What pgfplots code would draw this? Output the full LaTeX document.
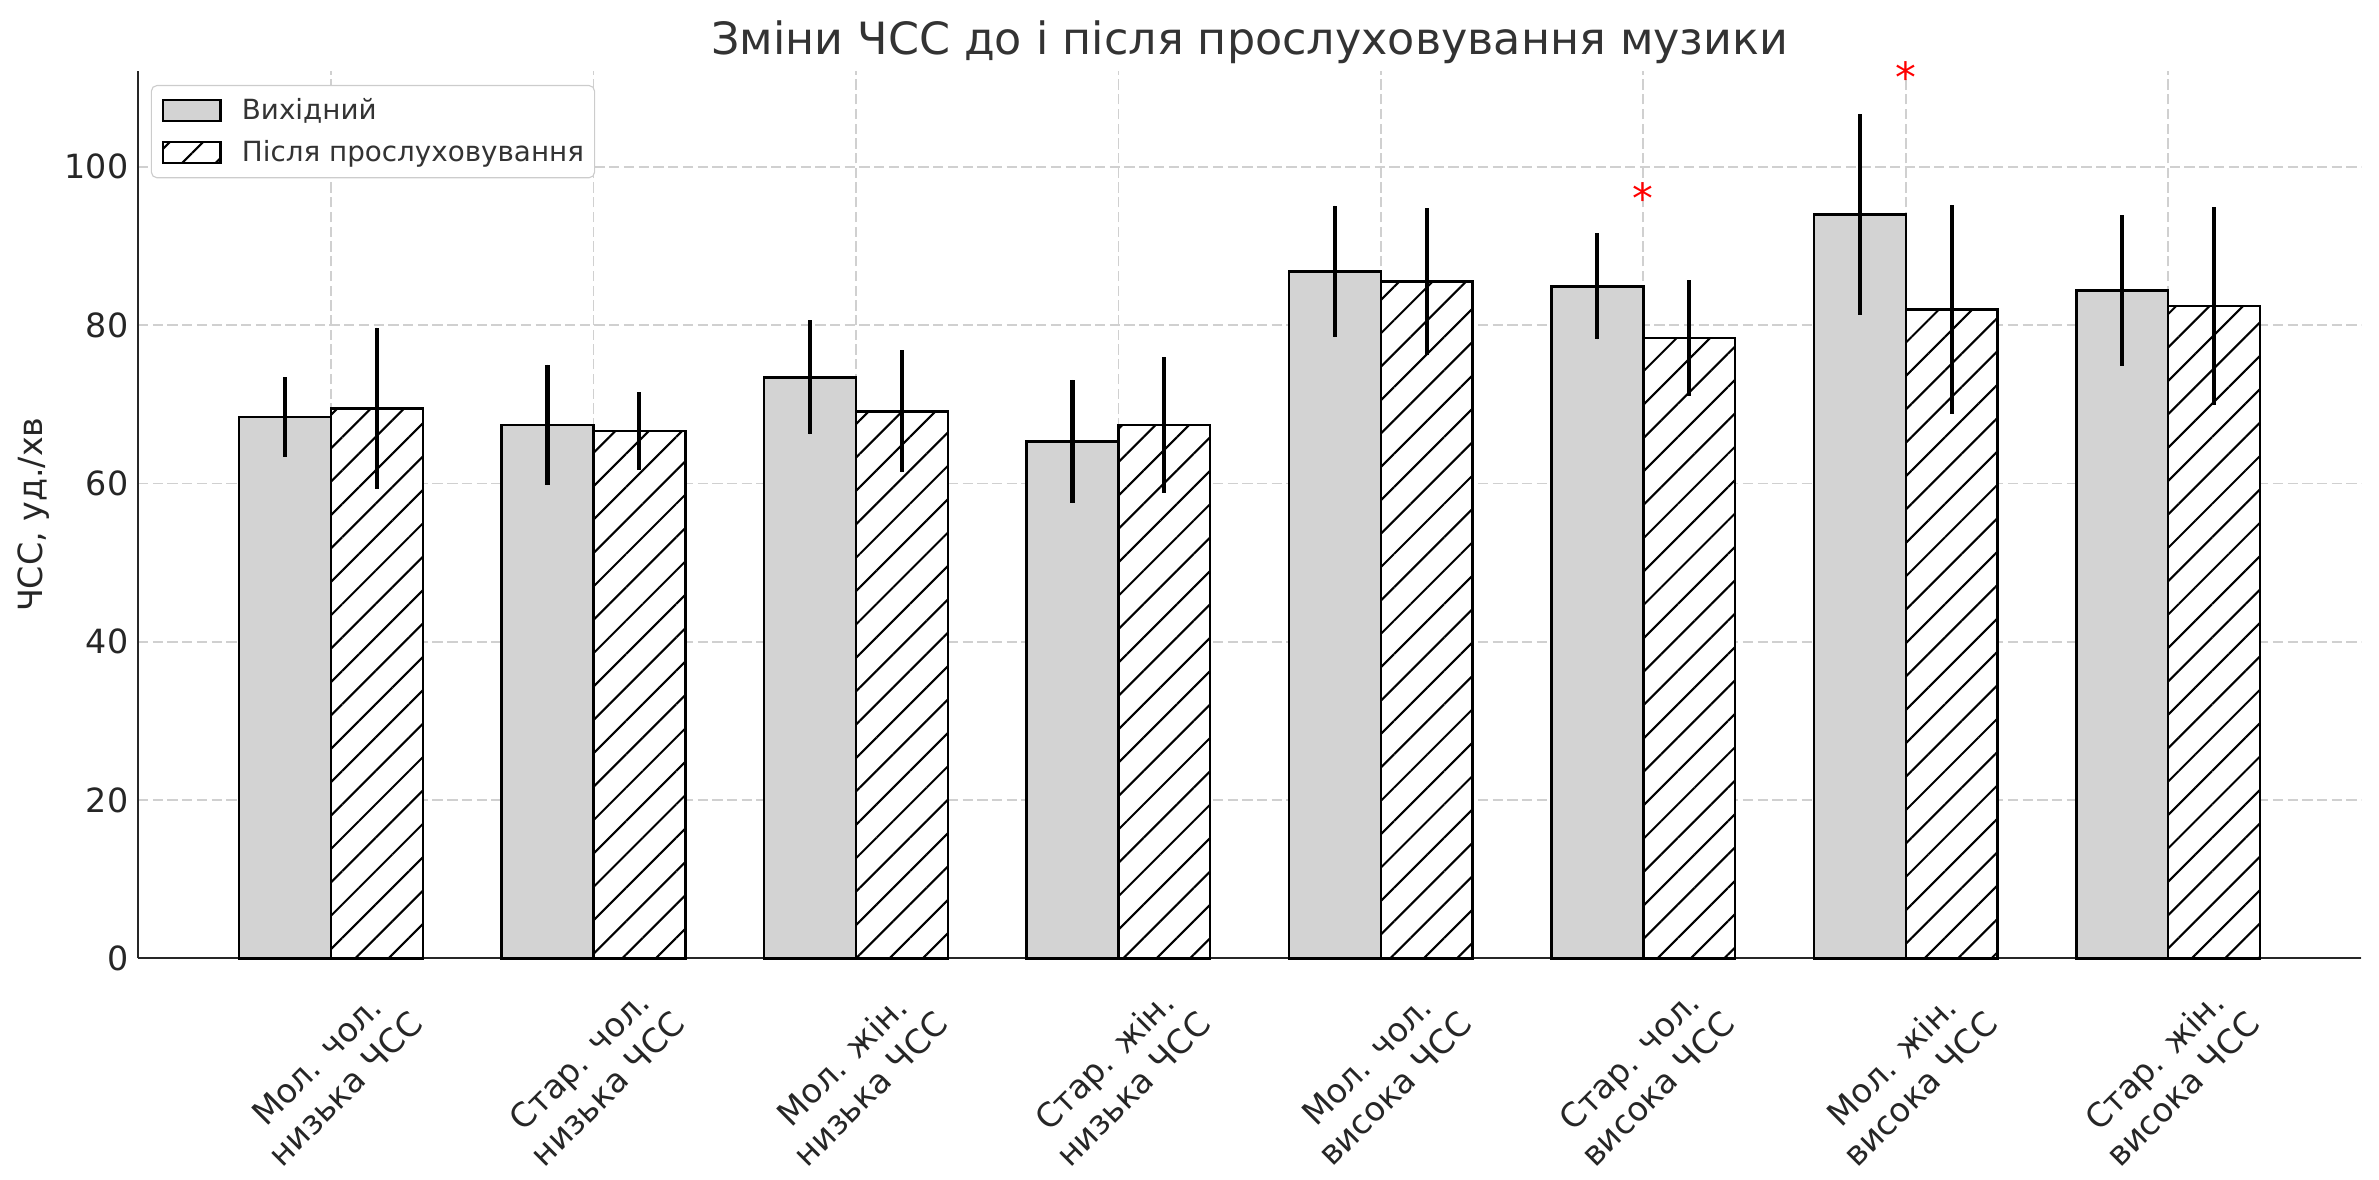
\documentclass[border=0pt]{standalone}
\usepackage{fontspec}
\setmainfont{DejaVu Sans}
\usepackage{pgfplots}
\pgfplotsset{compat=1.18}
\usepackage{pgfplotstable}
\usetikzlibrary{patterns.meta}
\definecolor{barg}{HTML}{D3D3D3}
\definecolor{gridc}{HTML}{D0D0D0}
\definecolor{txt}{HTML}{333333}

\pgfplotstableread{
x  b     be    a     ae
0  68.4  5.0   69.5  10.2
1  67.4  7.6   66.6  4.9
2  73.4  7.2   69.1  7.7
3  65.3  7.8   67.4  8.6
4  86.8  8.3   85.5  9.3
5  84.9  6.7   78.4  7.3
6  94.0  12.7  82.0  13.2
7  84.4  9.5   82.4  12.5
}\datatab

\begin{document}
\begin{tikzpicture}
\begin{axis}[
  scale only axis, width=800.3pt, height=319.4pt,
  xmin=-0.735, xmax=7.735, ymin=0, ymax=112.1,
  axis lines=left,
  axis line style={-, line width=0.8pt, black!85},
  xtick={0,1,...,7}, xticklabels={},
  ytick={0,20,...,100},
  major tick length=0pt,
  grid=major,
  grid style={gridc, line width=0.6pt, dash pattern=on 3.7pt off 1.6pt},
  tick label style={font=\fontsize{12}{14}\selectfont, text=black!85},
  /pgf/number format/assume math mode=true,
  bar width=0.35,
  clip=false,
  legend cell align=left,
  legend image code/.code={\draw[#1, sharp corners, line width=0.9pt] (0pt,-3.8pt) rectangle (20.6pt,3.8pt);},
  legend style={at={(0,1)}, anchor=north west, xshift=4.6pt, yshift=-5pt,
    draw=black!20, rounded corners=2pt, fill=white,
    font=\fontsize{10}{12}\selectfont, text=txt,
    inner xsep=3.8pt, inner ysep=2.5pt, row sep=2pt,
    nodes={inner xsep=0pt, inner ysep=2pt},
    /tikz/every odd column/.append style={column sep=7.3pt}},
]
\addplot[ybar, bar shift=0pt, fill=barg, draw=black, line width=0.9pt,
  error bars/.cd, y dir=both, y explicit, error mark=none,
  error bar style={line width=1.5pt, black, solid}]
  table[x expr=\thisrow{x}-0.175, y=b, y error=be] {\datatab};
\addlegendentry{Вихідний}
\addplot[ybar, bar shift=0pt, fill=white, draw=black, line width=0.9pt,
  postaction={pattern={Lines[angle=45, distance=8.5pt, line width=0.75pt]}, pattern color=black},
  error bars/.cd, y dir=both, y explicit, error mark=none,
  error bar style={line width=1.5pt, black, solid}]
  table[x expr=\thisrow{x}+0.175, y=a, y error=ae] {\datatab};
\addlegendentry{Після прослуховування}

\coordinate (O) at (rel axis cs:0,0);

\node[anchor=base, font=\fontsize{16}{19}\selectfont, text=txt]
  at ([yshift=5.8pt]rel axis cs:0.5,1) {Зміни ЧСС до і після прослуховування музики};
\node[rotate=90, anchor=center, font=\fontsize{12}{14}\selectfont, text=black!85]
  at ([xshift=-37.6pt]rel axis cs:0,0.5) {ЧСС, уд./хв};

\node[anchor=base, text=red, font=\fontsize{15}{18}\selectfont] at ([yshift=-8.7pt]axis cs:5,97.2) {*};
\node[anchor=base, text=red, font=\fontsize{15}{18}\selectfont] at ([yshift=-8.7pt]axis cs:6,112.4) {*};

\tikzset{xl/.style={rotate=45, align=center, anchor=center, inner sep=0pt,
  font=\fontsize{12}{14.4}\selectfont, text=black!85}}
\node[xl] at ([yshift=-41.8pt]axis cs:0,0) {Мол. чол.\\низька ЧСС};
\node[xl] at ([yshift=-41.8pt]axis cs:1,0) {Стар. чол.\\низька ЧСС};
\node[xl] at ([yshift=-41.8pt]axis cs:2,0) {Мол. жін.\\низька ЧСС};
\node[xl] at ([yshift=-41.8pt]axis cs:3,0) {Стар. жін.\\низька ЧСС};
\node[xl] at ([yshift=-41.8pt]axis cs:4,0) {Мол. чол.\\висока ЧСС};
\node[xl] at ([yshift=-41.8pt]axis cs:5,0) {Стар. чол.\\висока ЧСС};
\node[xl] at ([yshift=-41.8pt]axis cs:6,0) {Мол. жін.\\висока ЧСС};
\node[xl] at ([yshift=-41.8pt]axis cs:7,0) {Стар. жін.\\висока ЧСС};
\end{axis}
\pgfresetboundingbox
\path[use as bounding box] ([shift={(-49.7pt,-79.8pt)}]O) rectangle ([shift={(806.74pt,345.0pt)}]O);
\end{tikzpicture}
\end{document}
